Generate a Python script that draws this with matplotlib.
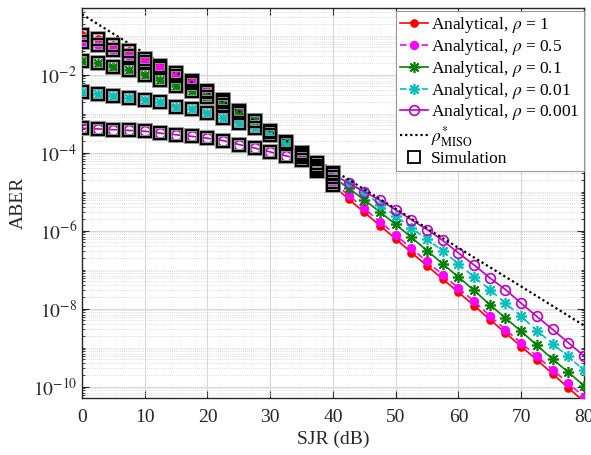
import numpy as np
import matplotlib
matplotlib.use("Agg")
import matplotlib.pyplot as plt
from matplotlib.ticker import LogLocator, NullFormatter, FixedLocator, FuncFormatter

# ---------------- data (log10 of ABER) ----------------
sjr_db = [0, 2.5, 5, 7.5, 10, 12.5, 15, 17.5, 20, 22.5, 25, 27.5, 30, 32.5, 35, 37.5,
          40, 42.5, 45, 47.5, 50, 52.5, 55, 57.5, 60, 62.5, 65, 67.5, 70, 72.5, 75, 77.5, 80]

log_rho_1 = [-0.97, -1.09, -1.23, -1.40, -1.60, -1.78, -1.96, -2.17, -2.42, -2.66, -2.92,
             -3.19, -3.48, -3.75, -4.10, -4.46, -4.84, -5.19, -5.53, -5.87, -6.21, -6.56,
             -6.90, -7.24, -7.58, -7.92, -8.28, -8.62, -8.97, -9.31, -9.67, -10.03, -10.38]
log_rho_05 = [-1.17, -1.25, -1.36, -1.51, -1.68, -1.84, -2.03, -2.22, -2.45, -2.69, -2.94,
              -3.20, -3.48, -3.75, -4.07, -4.42, -4.76, -5.09, -5.43, -5.77, -6.11, -6.45,
              -6.79, -7.13, -7.47, -7.81, -8.18, -8.54, -8.88, -9.22, -9.56, -9.91, -10.26]
log_rho_01 = [-1.66, -1.71, -1.80, -1.89, -2.00, -2.13, -2.28, -2.43, -2.57, -2.77, -2.97,
              -3.20, -3.45, -3.72, -4.02, -4.33, -4.63, -4.91, -5.21, -5.52, -5.84, -6.17,
              -6.51, -6.85, -7.19, -7.53, -7.90, -8.24, -8.58, -8.94, -9.29, -9.63, -9.97]
log_rho_001 = [-2.45, -2.49, -2.54, -2.60, -2.64, -2.71, -2.82, -2.88, -2.98, -3.10, -3.24,
               -3.37, -3.55, -3.75, -4.00, -4.27, -4.52, -4.78, -5.02, -5.33, -5.63, -5.93,
               -6.22, -6.52, -6.85, -7.19, -7.51, -7.86, -8.20, -8.56, -8.90, -9.22, -9.58]
log_rho_0001 = [-3.37, -3.39, -3.41, -3.43, -3.45, -3.50, -3.54, -3.58, -3.63, -3.69, -3.79,
                -3.88, -3.98, -4.08, -4.18, -4.37, -4.55, -4.78, -5.00, -5.22, -5.46, -5.72,
                -5.97, -6.25, -6.57, -6.88, -7.21, -7.51, -7.86, -8.20, -8.53, -8.87, -9.21]

miso_db = [0, 10, 20, 30, 40, 50, 60, 70, 80]
log_miso = [-0.45, -1.45, -2.44, -3.44, -4.44, -5.44, -6.44, -7.43, -8.43]

sim_db = sjr_db[:17]   # simulation available 0..40 dB

labels = [r"Analytical, $\rho$ = 1", r"Analytical, $\rho$ = 0.5", r"Analytical, $\rho$ = 0.1",
          r"Analytical, $\rho$ = 0.01", r"Analytical, $\rho$ = 0.001"]
miso_label = r"$\rho^{*}_{\mathrm{MISO}}$"
sim_label = "Simulation"

x_ticks = [0, 10, 20, 30, 40, 50, 60, 70, 80]
y_tick_exps = [-10, -8, -6, -4, -2]

# ---------------- style ----------------
plt.rcParams['font.family'] = ['Liberation Serif', 'DejaVu Serif']
plt.rcParams['mathtext.fontset'] = 'stix'

fig = plt.figure(figsize=(5.91, 4.55), dpi=100)
ax = fig.add_axes([0.1387, 0.1253, 0.8493, 0.8571])

series = [log_rho_1, log_rho_05, log_rho_01, log_rho_001, log_rho_0001]
colors = [(1, 0, 0), (1, 0, 1), (0, 0.5, 0), (0, 0.75, 0.75), (0.75, 0, 0.75)]
styles = ['-', (0, (4, 2.5)), '-', (0, (4, 2.5)), '-']
markers = ['o', 'o', (8, 2, 0), (8, 2, 0), 'o']
msizes = [5, 5.5, 8, 8, 7]
faces = ['fill', 'fill', 'fill', 'fill', 'none']

x = np.array(sjr_db)
handles = []
for s, c, ls, m, ms, fc, lab in zip(series, colors, styles, markers, msizes, faces, labels):
    y = 10.0 ** np.array(s)
    h, = ax.plot(x, y, color=c, linestyle=ls, linewidth=1.2, marker=m, markersize=ms,
                 markerfacecolor=(c if fc == 'fill' else 'none'), markeredgecolor=c,
                 markeredgewidth=1.2, label=lab, zorder=3)
    handles.append(h)

hm, = ax.plot(miso_db, 10.0 ** np.array(log_miso), color='black', linestyle=(0, (1, 1.3)),
              linewidth=1.6, label=miso_label, zorder=4)

# simulation squares (gray halo + black outline)
xs = np.array(sim_db)
for s in series:
    ys = 10.0 ** np.array(s[:len(sim_db)])
    ax.plot(xs, ys, linestyle='none', marker='s', markersize=8, markerfacecolor='none',
            markeredgecolor=(0.6, 0.6, 0.6), markeredgewidth=2.8, zorder=5)
    ax.plot(xs, ys, linestyle='none', marker='s', markersize=8, markerfacecolor='none',
            markeredgecolor='black', markeredgewidth=1.5, zorder=6)
hs, = ax.plot([], [], linestyle='none', marker='s', markersize=8, markerfacecolor='none',
              markeredgecolor='black', markeredgewidth=1.3, label=sim_label)

ax.set_yscale('log')
ax.set_xlim(0, 80)
ax.set_ylim(10 ** -10.29, 10 ** -0.29)

ax.xaxis.set_major_locator(FixedLocator(x_ticks))
ax.yaxis.set_major_locator(FixedLocator([10.0 ** e for e in y_tick_exps]))
ax.yaxis.set_major_formatter(FuncFormatter(lambda v, p: r"$10^{%d}$" % int(round(np.log10(v)))))
ax.yaxis.set_minor_locator(LogLocator(base=10, subs=np.arange(1, 10), numticks=30))
ax.yaxis.set_minor_formatter(NullFormatter())

ax.grid(True, which='major', axis='both', color=(0.85, 0.85, 0.85), linewidth=0.8, zorder=0)
ax.grid(True, which='minor', axis='y', color=(0.82, 0.82, 0.82), linestyle=(0, (1, 1.5)),
        linewidth=0.6, zorder=0)
ax.set_axisbelow(True)

ax.tick_params(which='both', direction='in', top=True, right=True, labelsize=14,
               colors=(0.15, 0.15, 0.15))
ax.tick_params(axis='x', which='major', pad=8)
ax.tick_params(which='major', length=5, width=0.8)
ax.tick_params(which='minor', length=2.5, width=0.6)
for sp in ax.spines.values():
    sp.set_color((0.15, 0.15, 0.15))
    sp.set_linewidth(1.0)

ax.set_xlabel("SJR (dB)", fontsize=14, color=(0.15, 0.15, 0.15), labelpad=3)
ax.set_ylabel("ABER", fontsize=14, color=(0.15, 0.15, 0.15), labelpad=4)

leg = ax.legend(handles=handles + [hm, hs], loc='upper right', bbox_to_anchor=(1.0, 0.992),
                borderaxespad=0.0, fontsize=12.5, handlelength=1.6, handletextpad=0.2,
                labelspacing=0.1, borderpad=0.25, fancybox=False, framealpha=1.0,
                edgecolor=(0.6, 0.6, 0.6))
leg.get_frame().set_linewidth(0.8)

fig.savefig("out.png", dpi=100)
